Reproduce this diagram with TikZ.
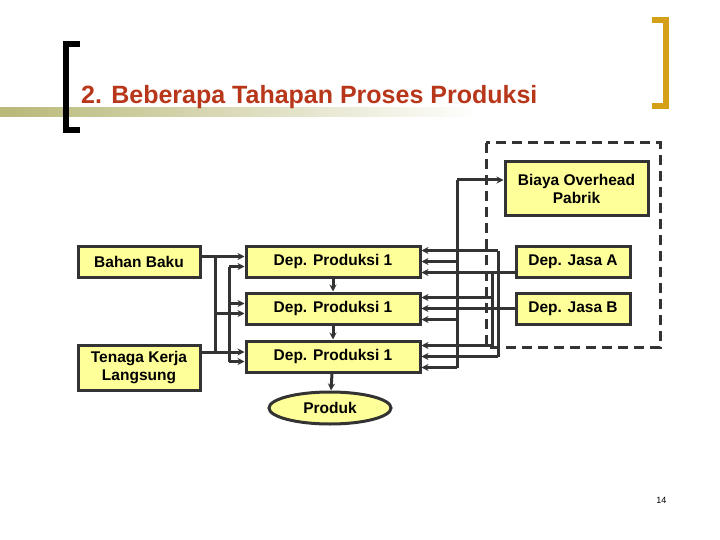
\documentclass[tikz,border=0pt]{standalone}
\usepackage{fontspec}
\setmainfont{Liberation Sans}
\usetikzlibrary{arrows.meta,shapes.geometric,calc}
\definecolor{boxy}{HTML}{FFFF99}
\definecolor{ln}{HTML}{333333}
\definecolor{titlered}{HTML}{B8361A}
\definecolor{gold}{HTML}{D4A017}
\definecolor{olive}{HTML}{B8B878}
\begin{document}
\begin{tikzpicture}[x=1pt,y=-1pt,
  bx/.style={draw=ln,line width=3pt,fill=boxy,inner sep=0pt,font=\bfseries\fontsize{15.5}{18}\selectfont,align=center},
  cn/.style={draw=ln,line width=3pt},
  ar/.style={cn,-{Stealth[length=7pt,width=7pt]}}]
\useasboundingbox (0,0) rectangle (720,540);
% title decoration
\shade[left color=olive,right color=white] (0,108) rectangle (480,117);
\draw[line width=6pt,black] (80,44) -- (66,44) -- (66,130) -- (80,130);
\draw[line width=6pt,gold] (652,20) -- (666,20) -- (666,106) -- (652,106);
\node[anchor=west,text=titlered,font=\bfseries\fontsize{25}{28}\selectfont,inner sep=0pt] (title) at (81,97) {2. Beberapa Tahapan Proses Produksi};
% dashed group
\draw[ln,line width=3pt,dash pattern=on 10pt off 6pt] (486,143) rectangle (660,347);
% nodes
\node[bx,minimum width=122pt,minimum height=31pt] (bb) at (139,261.5) {Bahan Baku};
\node[bx,minimum width=122pt,minimum height=45pt] (tk) at (139,367.5) {Tenaga Kerja\\Langsung};
\node[bx,minimum width=174pt,minimum height=31pt] (da) at (333,261.5) {Dep. Produksi 1};
\node[bx,minimum width=174pt,minimum height=31pt] (db) at (333,308.5) {Dep. Produksi 1};
\node[bx,minimum width=174pt,minimum height=31pt] (dc) at (333,356.5) {Dep. Produksi 1};
\node[bx,ellipse,minimum width=122pt,minimum height=32pt] (pr) at (330,408) {Produk};
\node[bx,minimum width=143pt,minimum height=54pt] (ov) at (576.5,189) {Biaya Overhead\\Pabrik};
\node[bx,minimum width=114pt,minimum height=31pt] (ja) at (573,261.5) {Dep. Jasa A};
\node[bx,minimum width=114pt,minimum height=31pt] (jb) at (573,308.5) {Dep. Jasa B};
\node[anchor=east,font=\fontsize{9}{10}\selectfont] (pg) at (670,500) {14};
% vertical flow
\draw[ar] (da) -- (db);
\draw[ar] (db) -- (dc);
\draw[ar] (dc) -- (pr);
% left inputs
\coordinate (l1) at (215,256.5);
\coordinate (l2) at (215,352);
\coordinate (m1) at (229,266.5);
\coordinate (m2) at (229,361.5);
\draw[ar] (bb.east |- l1) -- ([yshift=5pt]da.west);
\draw[ar] (tk.east |- l2) -- (dc.west |- l2);
\draw[cn] (l1) -- (l2);
\draw[ar] (215,313.5) -- ([yshift=-5pt]db.west);
\draw[cn] (m1) -- (m2);
\draw[ar] (m1) -- ([yshift=-5pt]da.west);
\draw[ar] (229,303.5) -- ([yshift=5pt]db.west);
\draw[ar] (m2) -- (dc.west |- m2);
% overhead distribution
\coordinate (o1) at (457,180);
\coordinate (o2) at (457,367.5);
\draw[cn] (o1) -- (o2);
\draw[ar] (o1) -- (ov.west |- o1);
\draw[ar] (457,261.5) -- (da.east);
\draw[ar] (457,319.5) -- ([yshift=-11pt]db.east);
\draw[ar] (o2) -- ([yshift=-11pt]dc.east);
% Jasa A
\draw[ar] (ja.west |- 0,272.5) -- ([yshift=-11pt]da.east);
\coordinate (a1) at (492,272.5);
\coordinate (a2) at (492,345.5);
\draw[cn] (a1) -- (a2);
\draw[ar] (492,297.5) -- ([yshift=11pt]db.east);
\draw[ar] (a2) -- ([yshift=11pt]dc.east);
% Jasa B
\draw[ar] (jb.west) -- (db.east);
\coordinate (b1) at (498,250.5);
\coordinate (b2) at (498,356.5);
\draw[cn] (b1) -- (b2);
\draw[ar] (b1) -- ([yshift=11pt]da.east);
\draw[ar] (b2) -- (dc.east);
\end{tikzpicture}
\end{document}
